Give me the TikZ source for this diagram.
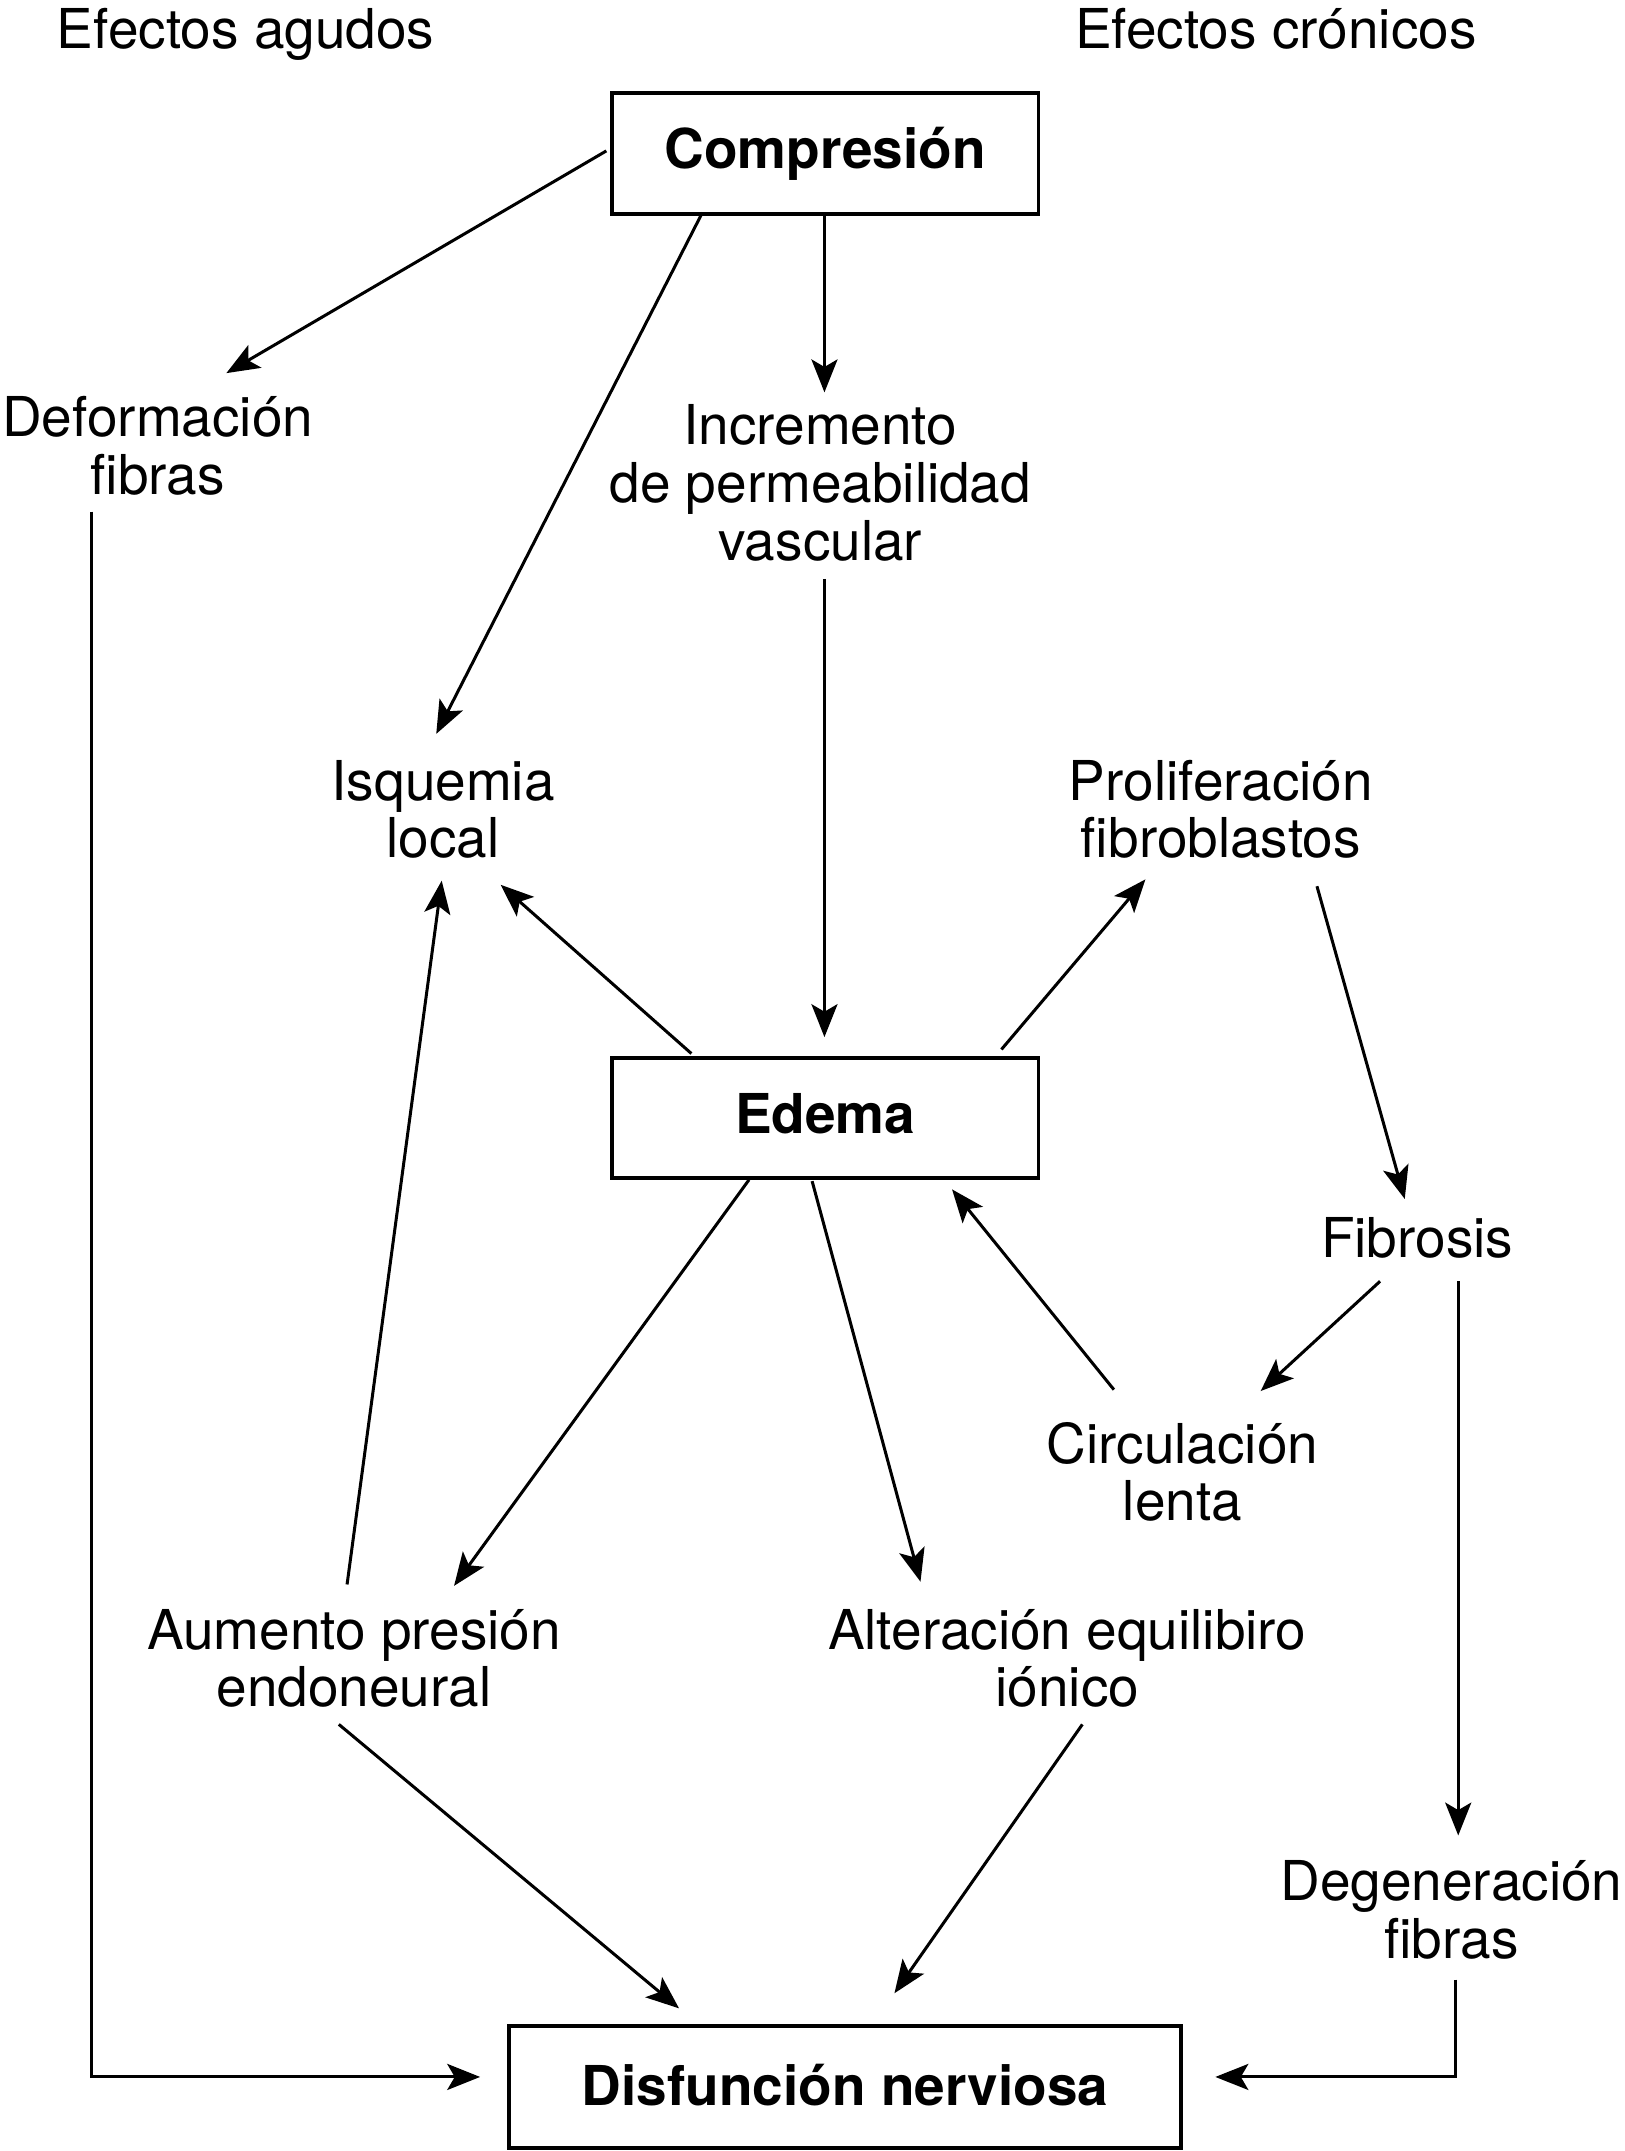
\documentclass[tikz,border=0pt]{standalone}
\usepackage{fontspec}
\setmainfont{TeX Gyre Heros}
\usetikzlibrary{arrows.meta,calc}
\tikzset{
  lbl/.style={align=center, inner sep=0pt, font=\fontsize{22.8}{23.9}\selectfont},
  boxnode/.style={draw, line width=1.6pt, inner sep=0pt, font=\fontsize{22.8}{23.9}\selectfont\bfseries},
  arr/.style={line width=1.25pt, -{Stealth[length=0.48cm,width=0.38cm,inset=0.11cm]}},
}
\begin{document}
\begin{tikzpicture}[x=0.02cm, y=-0.02cm]
\useasboundingbox (0,0) rectangle (1184,1568);
% headers
\node[lbl] (agudos) at (179,25) {Efectos agudos};
\node[lbl] (cronicos) at (930,21) {Efectos crónicos};
% boxes
\node[boxnode, minimum width=6.22cm, minimum height=1.76cm] (comp) at (601.5,112) {Compresión};
\node[boxnode, minimum width=6.22cm, minimum height=1.76cm, text depth=0.12cm] (edema) at (601.5,815) {Edema};
\node[boxnode, minimum width=9.8cm, minimum height=1.78cm, text depth=0.08cm] (disf) at (616,1521.5) {Disfunción nerviosa};
% labels
\node[lbl] (defo) at (115,325) {Deformación\\fibras};
\node[lbl] (incr) at (598,352) {Incremento\\de permeabilidad\\vascular};
\node[lbl] (isq) at (323,590) {Isquemia\\local};
\node[lbl] (prol) at (890,590) {Proliferación\\fibroblastos};
\node[lbl] (fib) at (1033,902) {Fibrosis};
\node[lbl] (circ) at (862,1073) {Circulación\\lenta};
\node[lbl] (aum) at (258,1209) {Aumento presión\\endoneural};
\node[lbl] (alt) at (778,1209) {Alteración equilibiro\\iónico};
\node[lbl] (deg) at (1058,1392) {Degeneración\\fibras};
% connectors
\draw[arr] ($(comp)+(-159.5,-2)$) -- ($(defo)+(50,-53)$);
\draw[arr] ($(comp)+(-89.5,43)$) -- ($(isq)+(-5,-55)$);
\draw[arr] ($(comp)+(-0.5,44)$) -- ($(incr)+(3,-66)$);
\draw[arr] ($(incr)+(3,70)$) -- ($(edema)+(-0.5,-59)$);
\draw[arr] ($(defo)+(-48,48)$) |- ($(disf)+(-266,-7.5)$);
\draw[arr] ($(edema)+(-97.5,-47)$) -- ($(isq)+(42,55)$);
\draw[arr] ($(edema)+(128.5,-50)$) -- ($(prol)+(-55,51)$);
\draw[arr] ($(prol)+(70,56)$) -- ($(fib)+(-9,-28)$);
\draw[arr] ($(fib)+(-27,32)$) -- ($(circ)+(57,-59)$);
\draw[arr] ($(fib)+(30,32)$) -- ($(deg)+(5,-54)$);
\draw[arr] ($(circ)+(-50,-60)$) -- ($(edema)+(92.5,52)$);
\draw[arr] ($(edema)+(-55.5,45)$) -- ($(aum)+(73,-53)$);
\draw[arr] ($(edema)+(-9.5,46)$) -- ($(alt)+(-107,-56)$);
\draw[arr] ($(aum)+(-5,-54)$) -- ($(isq)+(-1,52)$);
\draw[arr] ($(aum)+(-11,48)$) -- ($(disf)+(-121,-57.5)$);
\draw[arr] ($(alt)+(11,48)$) -- ($(disf)+(36,-68.5)$);
\draw[arr] ($(deg)+(3,51)$) |- ($(disf)+(270,-7.5)$);
\end{tikzpicture}
\end{document}
